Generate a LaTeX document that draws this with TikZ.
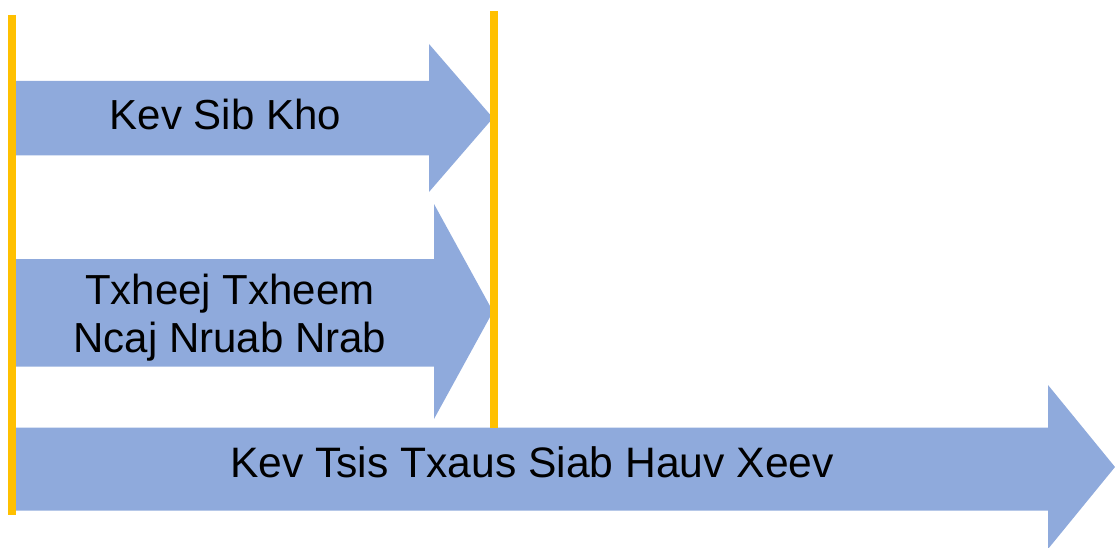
\documentclass[tikz,border=0pt]{standalone}
\usepackage{fontspec}
\setmainfont{Liberation Sans}
\definecolor{arrowblue}{HTML}{8FAADC}
\definecolor{lineyellow}{HTML}{FFC000}
\tikzset{
  arrowshape/.style={fill=arrowblue, draw=none},
  yline/.style={draw=lineyellow, line width=7.5pt},
  label/.style={font=\fontsize{42}{48}\selectfont, text=black, inner sep=0pt, align=center}
}
\begin{document}
\begin{tikzpicture}[x=1pt,y=-1pt]
\useasboundingbox (0,0) rectangle (1115,548);
% arrow 1
\fill[arrowshape] (16,81) -- (429,81) -- (429,44) -- (493,118) -- (429,192) -- (429,155.5) -- (16,155.5) -- cycle;
% arrow 2
\fill[arrowshape] (16,259) -- (434,259) -- (434,204) -- (493,311.5) -- (434,419) -- (434,366.5) -- (16,366.5) -- cycle;
% arrow 3
\fill[arrowshape] (16,427.5) -- (1048,427.5) -- (1048,385) -- (1115,467) -- (1048,549) -- (1048,510.5) -- (16,510.5) -- cycle;
% yellow lines
\coordinate (l1) at (12,15);
\coordinate (l2) at (12,515);
\coordinate (r1) at (494,11);
\coordinate (r2) at (494,427.5);
\draw[yline] (l1) -- (l2);
\draw[yline] (r1) -- (r2);
% labels
\node[label, anchor=base] (t1) at (225.5,129.3) {Kev Sib Kho};
\node[label, anchor=base] (t2) at (230,352.3) {Txheej Txheem\\Ncaj Nruab Nrab};
\node[label, anchor=base, font=\fontsize{42.6}{48}\selectfont] (t3) at (532,477.7) {Kev Tsis Txaus Siab Hauv Xeev};
\end{tikzpicture}
\end{document}
